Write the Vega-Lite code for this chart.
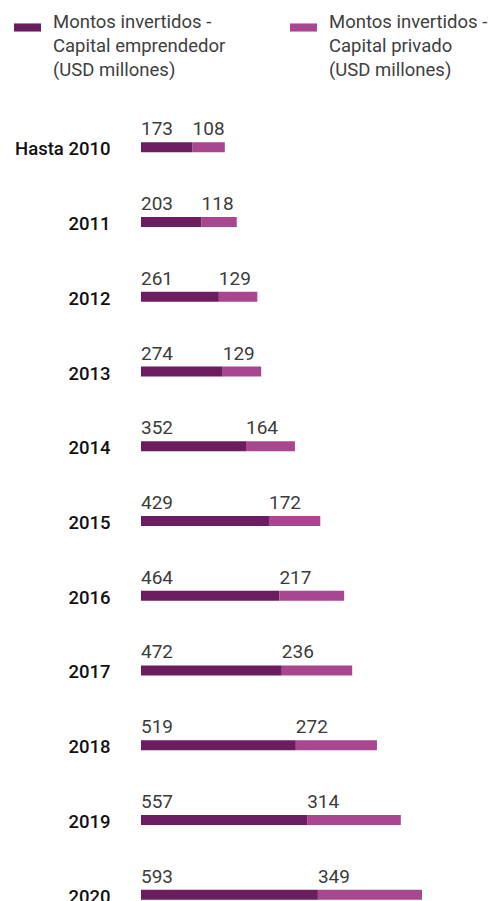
{
  "$schema": "https://vega.github.io/schema/vega-lite/v6.json",
  "autosize": {"type": "none"},
  "width": 352,
  "height": 822,
  "padding": {"left": 141, "top": 110, "right": 0, "bottom": 0},
  "background": "white",
  "config": {"view": {"stroke": null}, "font": "Roboto"},
  "data": {"values": [
    {"year": "Hasta 2010", "serie": "emp", "ord": 1, "v": 173},
    {"year": "Hasta 2010", "serie": "priv", "ord": 2, "v": 108},
    {"year": "2011", "serie": "emp", "ord": 1, "v": 203},
    {"year": "2011", "serie": "priv", "ord": 2, "v": 118},
    {"year": "2012", "serie": "emp", "ord": 1, "v": 261},
    {"year": "2012", "serie": "priv", "ord": 2, "v": 129},
    {"year": "2013", "serie": "emp", "ord": 1, "v": 274},
    {"year": "2013", "serie": "priv", "ord": 2, "v": 129},
    {"year": "2014", "serie": "emp", "ord": 1, "v": 352},
    {"year": "2014", "serie": "priv", "ord": 2, "v": 164},
    {"year": "2015", "serie": "emp", "ord": 1, "v": 429},
    {"year": "2015", "serie": "priv", "ord": 2, "v": 172},
    {"year": "2016", "serie": "emp", "ord": 1, "v": 464},
    {"year": "2016", "serie": "priv", "ord": 2, "v": 217},
    {"year": "2017", "serie": "emp", "ord": 1, "v": 472},
    {"year": "2017", "serie": "priv", "ord": 2, "v": 236},
    {"year": "2018", "serie": "emp", "ord": 1, "v": 519},
    {"year": "2018", "serie": "priv", "ord": 2, "v": 272},
    {"year": "2019", "serie": "emp", "ord": 1, "v": 557},
    {"year": "2019", "serie": "priv", "ord": 2, "v": 314},
    {"year": "2020", "serie": "emp", "ord": 1, "v": 593},
    {"year": "2020", "serie": "priv", "ord": 2, "v": 349}
  ]},
  "transform": [
    {"stack": "v", "groupby": ["year"], "sort": [{"field": "ord", "order": "ascending"}], "as": ["x0", "x1"]}
  ],
  "encoding": {
    "y": {
      "field": "year", "type": "nominal", "sort": null,
      "scale": {"paddingInner": 0, "paddingOuter": 0},
      "axis": {
        "title": null, "domain": false, "ticks": false,
        "labelPadding": 31, "labelFontSize": 18.5, "labelFontWeight": 500,
        "labelColor": "#111111", "labelOffset": 2, "labelFont": "Roboto"
      }
    }
  },
  "layer": [
    {
      "mark": {"type": "bar", "height": 10},
      "encoding": {
        "x": {"field": "x0", "type": "quantitative", "scale": {"domain": [0, 1180], "nice": false}, "axis": null},
        "x2": {"field": "x1"},
        "color": {
          "field": "serie", "type": "nominal",
          "scale": {"domain": ["emp", "priv"], "range": ["#6b1d5f", "#a8478f"]},
          "legend": {
            "title": null, "orient": "none", "legendX": -127, "legendY": -96,
            "direction": "horizontal", "columns": 2, "columnPadding": 64,
            "symbolType": "M-1,-0.3H1V0.3H-1Z", "symbolSize": 729,
            "symbolStrokeWidth": 0, "labelOffset": 12,
            "labelFontSize": 18.5, "labelColor": "#404040", "labelLimit": 300,
            "labelExpr": "datum.value == 'emp' ? ['Montos invertidos -', 'Capital emprendedor', '(USD millones)'] : ['Montos invertidos -', 'Capital privado', '(USD millones)']",
            "labelBaseline": "top",
            "encode": {"labels": {"update": {"lineHeight": {"value": 24}, "dy": {"value": -15}}}}
          }
        }
      }
    },
    {
      "mark": {"type": "text", "align": "left", "baseline": "alphabetic", "dy": -12, "fontSize": 19, "color": "#3c3c3c"},
      "encoding": {
        "x": {"field": "x0", "type": "quantitative"},
        "text": {"field": "v", "type": "quantitative"}
      }
    }
  ]
}
